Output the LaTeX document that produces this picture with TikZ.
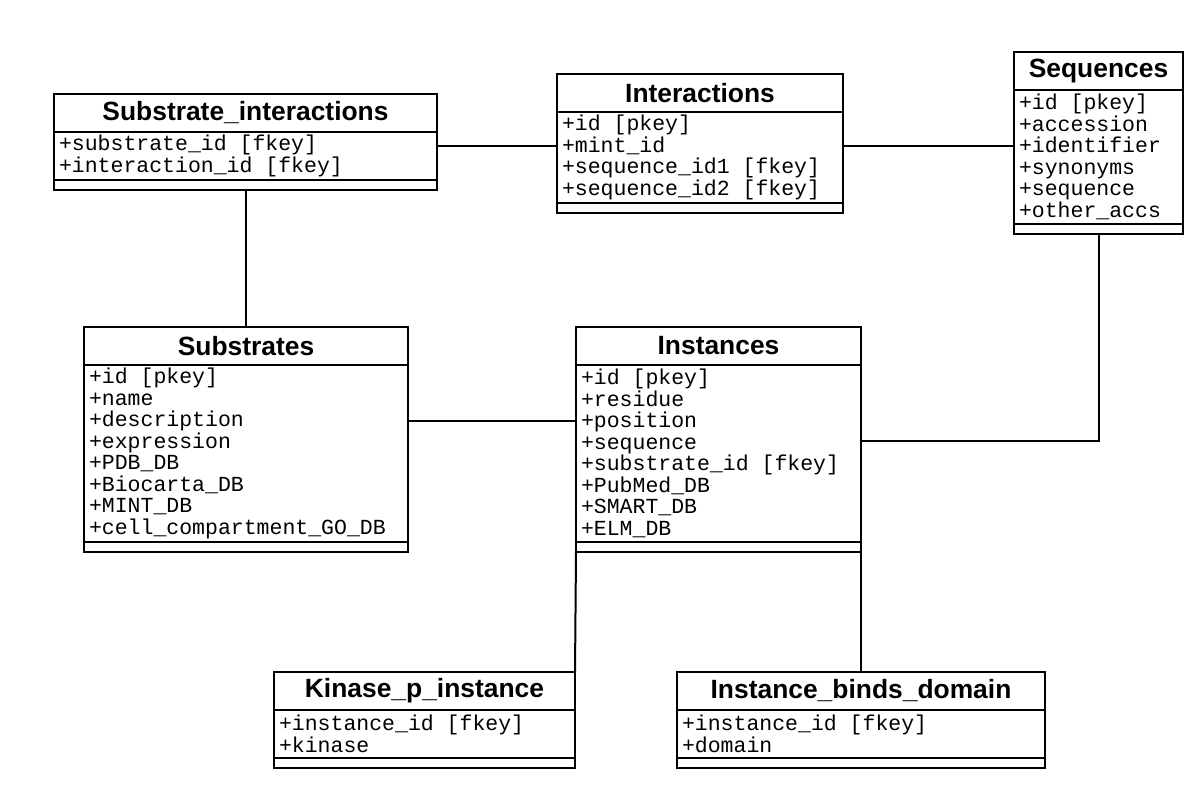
\documentclass[tikz,border=0pt]{standalone}
\usepackage{fontspec}
\setsansfont{Liberation Sans}
\setmonofont{Liberation Mono}
\usetikzlibrary{positioning}

\begin{document}
\begin{tikzpicture}[x=0.5pt,y=-0.5pt,
  hd/.style={draw,line width=1.2pt,minimum width=#1*0.5pt,minimum height=19pt,inner sep=0pt,outer sep=0pt,font=\sffamily\bfseries\fontsize{13.2}{14}\selectfont},
  attr/.style 2 args={draw,line width=1.2pt,text width=#1*0.5pt-5pt,minimum height=#2*10.75pt+2.5pt,inner xsep=2.5pt,inner ysep=0pt,outer sep=0pt,align=left,font=\ttfamily\fontsize{10.75}{10.75}\selectfont,execute at begin node={\spaceskip=0pt\xspaceskip=0pt\relax}},
  ops/.style={draw,line width=1.2pt,minimum width=#1*0.5pt,minimum height=5pt,inner sep=0pt,outer sep=0pt},
  link/.style={line width=1pt}]
\useasboundingbox (0,0) rectangle (1198,799);
% classes
\node[hd=383,anchor=north west] (si) at (54,94) {Substrate\_interactions};
\node[attr={383}{2},below=0pt of si] (si-a) {+substrate\_id [fkey]\\+interaction\_id [fkey]};
\node[ops=383,below=0pt of si-a] (si-o) {};

\node[hd=286,anchor=north west] (inter) at (557,74) {Interactions};
\node[attr={286}{4},below=0pt of inter] (inter-a) {+id [pkey]\\+mint\_id\\+sequence\_id1 [fkey]\\+sequence\_id2 [fkey]};
\node[ops=286,below=0pt of inter-a] (inter-o) {};

\node[hd=169,anchor=north west] (seq) at (1014,52) {Sequences};
\node[attr={169}{6},below=0pt of seq] (seq-a) {+id [pkey]\\+accession\\+identifier\\+synonyms\\+sequence\\+other\_accs};
\node[ops=169,below=0pt of seq-a] (seq-o) {};

\node[hd=324,anchor=north west] (subs) at (84,327) {Substrates};
\node[attr={324}{8},below=0pt of subs] (subs-a) {+id [pkey]\\+name\\+description\\+expression\\+PDB\_DB\\+Biocarta\_DB\\+MINT\_DB\\+cell\_compartment\_GO\_DB};
\node[ops=324,below=0pt of subs-a] (subs-o) {};

\node[hd=285,anchor=north west] (inst) at (576,327) {Instances};
\node[attr={285}{8},below=0pt of inst] (inst-a) {+id [pkey]\\+residue\\+position\\+sequence\\+substrate\_id [fkey]\\+PubMed\_DB\\+SMART\_DB\\+ELM\_DB};
\node[ops=285,below=0pt of inst-a] (inst-o) {};

\node[hd=301,anchor=north west] (kin) at (274,672) {Kinase\_p\_instance};
\node[attr={301}{2},below=0pt of kin] (kin-a) {+instance\_id [fkey]\\+kinase};
\node[ops=301,below=0pt of kin-a] (kin-o) {};

\node[hd=368,anchor=north west] (ibd) at (677,672) {Instance\_binds\_domain};
\node[attr={368}{2},below=0pt of ibd] (ibd-a) {+instance\_id [fkey]\\+domain};
\node[ops=368,below=0pt of ibd-a] (ibd-o) {};

% relations
\draw[link] ([yshift=-7pt]si-a.north east) -- ([yshift=-7pt]si-a.north east -| inter-a.west);
\draw[link] ([yshift=-17pt]inter-a.north east) -- ([yshift=-17pt]inter-a.north east -| seq-a.west);
\draw[link] (si-o.south) -- (si-o.south |- subs.north);
\draw[link] ([yshift=-28pt]subs-a.north east) -- ([yshift=-28pt]subs-a.north east -| inst-a.west);
\draw[link] ([yshift=-38pt]inst-a.north east) -| (seq-o.south);
\draw[link] (inst-o.south west) -- (kin.north east);
\draw[link] (inst-o.south east) -- (ibd.north);
\end{tikzpicture}
\end{document}
